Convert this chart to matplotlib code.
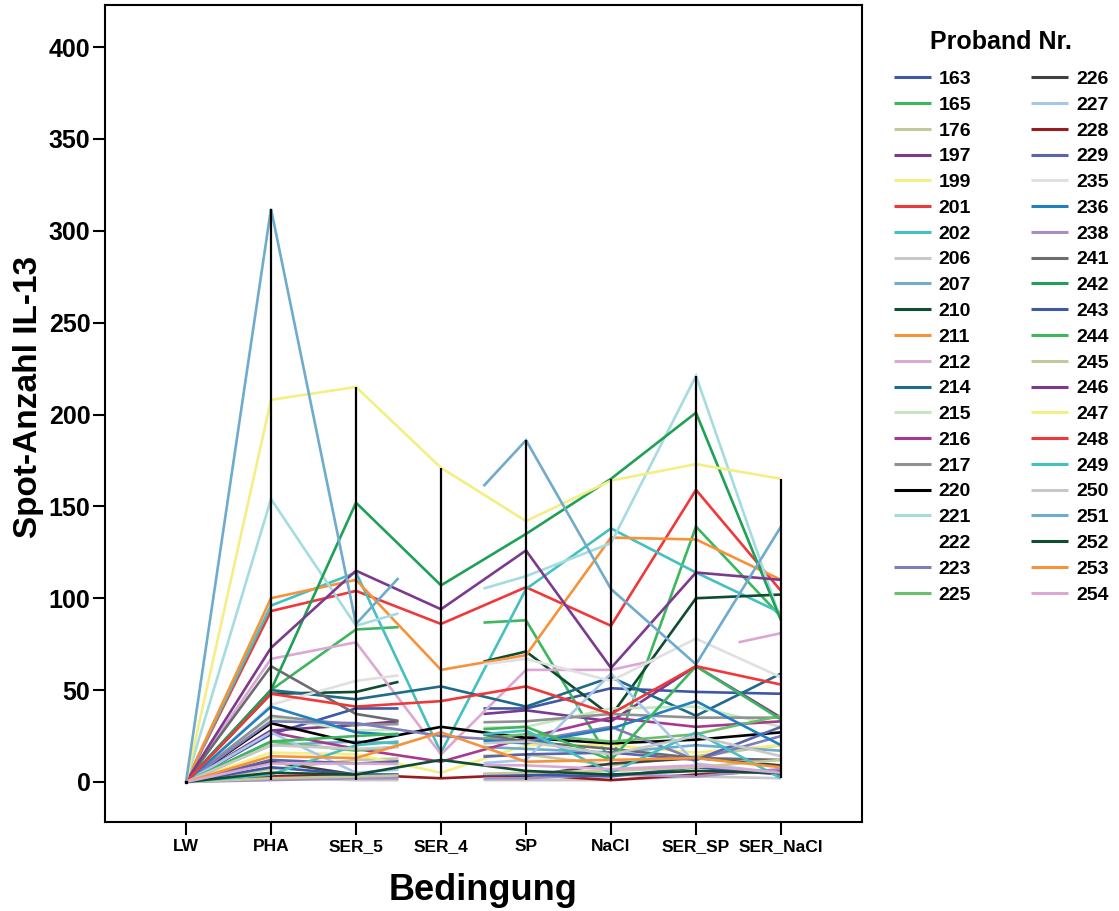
import numpy as np
import matplotlib
matplotlib.use("Agg")
import matplotlib.pyplot as plt

plt.rcParams["font.family"] = ["Liberation Sans", "DejaVu Sans"]
plt.rcParams["font.weight"] = "bold"

nan = np.nan

conditions = ["LW", "PHA", "SER_5", "SER_4", "SP", "NaCl", "SER_SP", "SER_NaCl"]

# Spot counts per subject, one value per condition (nan = not measured)
p163 = [0, 26, 40, nan, 40, 51, 49, 48]
p165 = [0, 50, 83, nan, 88, 11, 139, 90]
p176 = [0, 7, 12, nan, 15, 9, 14, 20]
p197 = [0, 28, 31, nan, 39, 33, 63, 35]
p199 = [0, 16, 15, 5, 20, 20, 16, 20]
p201 = [0, 93, 104, 86, 106, 85, 159, 104]
p202 = [0, 96, 114, 16, 105, 138, 114, 92]
p206 = [0, 2, 1, nan, 1, 1, 3, 2]
p207 = [0, 20, 22, nan, 18, 16, 20, 17]
p210 = [0, 48, 49, nan, 71, 36, 100, 102]
p211 = [0, 100, 110, 61, 69, 133, 132, 110]
p212 = [0, 67, 76, 15, 61, 61, nan, 81]
p214 = [0, 50, 45, 52, 41, 57, 36, 59]
p215 = [0, 35, 28, nan, 30, 40, 41, 30]
p216 = [0, 27, 18, 11, 24, 35, 30, 33]
p217 = [0, 36, 31, nan, 33, 37, 35, 35]
p220 = [0, 32, 21, 30, 24, 21, 23, 27]
p221 = [0, 154, 85, nan, 112, 130, 221, 88]
p222 = [nan, nan, nan, nan, nan, nan, nan, nan]
p223 = [0, 33, 32, 25, 22, 30, 12, 25]
p225 = [0, 22, 17, nan, 26, 22, 26, 36]
p226 = [0, 11, 4, nan, 3, 10, 13, 9]
p227 = [0, 27, 5, nan, 12, 59, 10, 5]
p228 = [0, 3, 4, 2, 4, 1, 4, 6]
p229 = [0, 12, 10, nan, 15, 16, 12, 30]
p235 = [0, 42, 55, nan, 67, 55, 78, 57]
p236 = [0, 41, 27, nan, 21, 29, 44, 20]
p238 = [0, 1, 2, nan, 2, 4, 3, 7]
p241 = [0, 63, 37, nan, 22, 18, 13, 12]
p242 = [0, 50, 152, 107, 135, 165, 201, 88]
p243 = [0, 8, 4, nan, 4, 3, 8, 4]
p244 = [0, 22, 25, nan, 30, 12, 63, 34]
p245 = [0, 2, 3, nan, 5, 6, 8, 12]
p246 = [0, 73, 115, 94, 126, 62, 114, 110]
p247 = [0, 208, 215, 171, 142, 164, 173, 165]
p248 = [0, 48, 41, 44, 52, 37, 63, 53]
p249 = [0, 4, 20, nan, 28, 5, 27, 2]
p250 = [0, 20, 18, nan, 22, 15, 25, 14]
p251 = [0, 312, 86, nan, 186, 105, 64, 139]
p252 = [0, 5, 4, 12, 6, 4, 6, 5]
p253 = [0, 14, 13, 27, 11, 12, 13, 8]
p254 = [0, 10, 10, nan, 9, 7, 9, 5]

subjects = ["163", "165", "176", "197", "199", "201", "202", "206", "207", "210",
            "211", "212", "214", "215", "216", "217", "220", "221", "222", "223",
            "225", "226", "227", "228", "229", "235", "236", "238", "241", "242",
            "243", "244", "245", "246", "247", "248", "249", "250", "251", "252",
            "253", "254"]
series = [p163, p165, p176, p197, p199, p201, p202, p206, p207, p210,
          p211, p212, p214, p215, p216, p217, p220, p221, p222, p223,
          p225, p226, p227, p228, p229, p235, p236, p238, p241, p242,
          p243, p244, p245, p246, p247, p248, p249, p250, p251, p252,
          p253, p254]

# 30-colour cycle, repeated for the later subjects
palette = ["#3E58A8", "#3DB75E", "#C5C99A", "#7B3A8E", "#F4EE84", "#F0383A",
           "#45C0C0", "#C8C8C8", "#6EABCC", "#0E4D30", "#F7923A", "#DCA8D3",
           "#206B8A", "#C6E6C0", "#A8398E", "#8F9194", "#000000", "#A5DCE0",
           "#FFFFFF", "#7F7EBB", "#6ABF6C", "#404040", "#A5C8EA", "#9A1B1E",
           "#5B64AC", "#E0E0E0", "#2080C0", "#A38EC8", "#6A6C70", "#1EA055"]


def gapped_path(vals):
    """Polyline through valid points; across a missing condition only the
    outer halves of the connecting segment are drawn."""
    xs, ys = [], []
    idx = [i for i, v in enumerate(vals) if not np.isnan(v)]
    for k, i in enumerate(idx):
        if k == 0:
            xs.append(i); ys.append(vals[i])
            continue
        j = idx[k - 1]
        if i - j == 1:
            xs.append(i); ys.append(vals[i])
        else:
            slope = (vals[i] - vals[j]) / (i - j)
            xs += [j + 0.5, nan, i - 0.5, i]
            ys += [vals[j] + 0.5 * slope, nan, vals[i] - 0.5 * slope, vals[i]]
    return np.array(xs, float), np.array(ys, float)


fig = plt.figure(figsize=(11.19, 9.11), dpi=100)
ax = fig.add_axes([105 / 1119, 1 - 822 / 911, 757 / 1119, 817 / 911])

x = np.arange(len(conditions))
for k, (name, vals) in enumerate(zip(subjects, series)):
    col = palette[k % len(palette)]
    xs, ys = gapped_path(vals)
    if len(xs) == 0:
        xs, ys = np.array([nan]), np.array([nan])
    ax.plot(xs, ys, color=col, lw=1.9, solid_capstyle="butt",
            solid_joinstyle="miter", label=name, zorder=2)

# drop lines spanning the range of all subjects at each condition
data = np.array(series, float)
lo = np.nanmin(data, axis=0)
hi = np.nanmax(data, axis=0)
ax.vlines(x, lo, hi, color="black", lw=1.6, zorder=3)
ax.plot([0], [0], marker="s", ms=2, color="black", zorder=3)

ax.set_xlim(-0.953, 7.953)
ax.set_ylim(-21.8, 422.9)
ax.set_yticks(np.arange(0, 401, 50))
ax.set_xticks(x)
ax.set_xticklabels(conditions, fontsize=12.5, fontweight="bold")
ax.tick_params(axis="y", labelsize=18, width=1.5, length=9, direction="out", pad=1.5)
ax.tick_params(axis="x", width=1.5, length=9, direction="out", pad=3)
for lab in ax.get_yticklabels():
    lab.set_fontweight("bold")
for sp in ax.spines.values():
    sp.set_linewidth(1.5)

ax.set_ylabel("Spot-Anzahl IL-13", fontsize=24, fontweight="bold")
ax.yaxis.set_label_coords(-0.081, 0.52)
ax.set_xlabel("Bedingung", fontsize=26, fontweight="bold")
ax.xaxis.set_label_coords(0.5, -0.062)

leg = fig.legend(loc="upper left", bbox_to_anchor=(886 / 1119, 1 - 22 / 911),
                 ncol=2, frameon=False, fontsize=14, title="Proband Nr.",
                 title_fontproperties={"weight": "bold", "size": 18},
                 handlelength=1.9, handletextpad=0.4, columnspacing=3.1,
                 labelspacing=0.42, borderaxespad=0)
for line in leg.get_lines():
    line.set_linewidth(2.2)
for t in leg.get_texts():
    t.set_fontweight("bold")
leg._legend_box.sep = 12

fig.savefig("out.png", dpi=100)
